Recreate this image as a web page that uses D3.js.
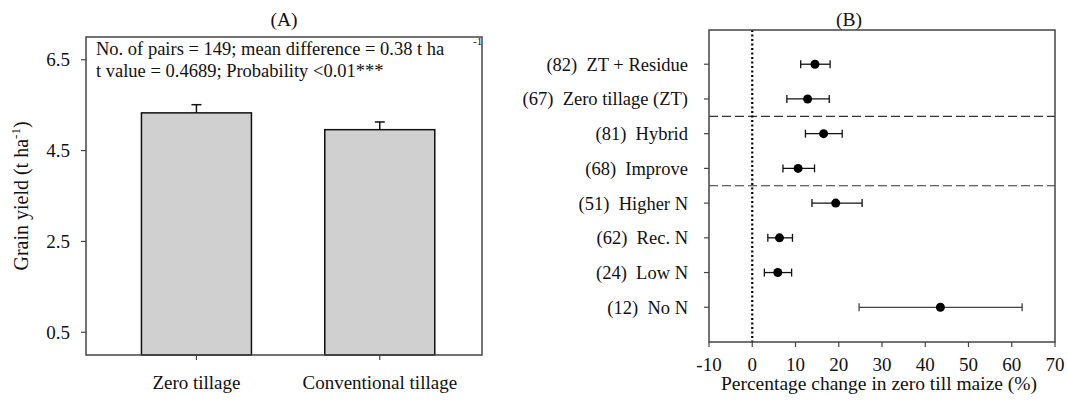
<!DOCTYPE html>
<html>
<head>
<meta charset="utf-8">
<script src="https://cdn.jsdelivr.net/npm/d3@7"></script>
<style>
  body { margin: 0; background: #fff; }
</style>
</head>
<body>
<svg id="chart" width="1068" height="404" font-family="Liberation Serif, Times New Roman, DejaVu Serif, serif"></svg>
<script>
// ── panel A data ──────────────────────────────────────────────────────────
const tillage = ['Zero tillage', 'Conventional tillage'];
const yieldMean = [5.33, 4.96];
const yieldErr = [0.18, 0.17];
const yieldTicks = [0.5, 2.5, 4.5, 6.5];

// ── panel B data ──────────────────────────────────────────────────────────
const practices = ['ZT + Residue', 'Zero tillage (ZT)', 'Hybrid', 'Improve', 'Higher N', 'Rec. N', 'Low N', 'No N'];
const pairs = [82, 67, 81, 68, 51, 62, 24, 12];
const change = [14.5, 12.8, 16.5, 10.6, 19.3, 6.3, 5.9, 43.5];
const changeLo = [11.2, 8.0, 12.3, 7.1, 13.8, 3.6, 2.8, 24.7];
const changeHi = [18.0, 17.8, 20.8, 14.4, 25.4, 9.3, 9.1, 62.4];
const changeTicks = [-10, 0, 10, 20, 30, 40, 50, 60, 70];
const groupBreaks = [2.5, 4.5];

const svg = d3.select('#chart');
const FONT = 'Liberation Serif, Times New Roman, DejaVu Serif, serif';
const FS = 18.5;
const AXIS = '#444';

const txt = (g, size = FS) => g.append('text').attr('font-family', FONT).attr('font-size', size).attr('fill', '#111');

// ═════ panel A ═════════════════════════════════════════════════════════════
const aL = 86, aR = 482, aT = 37, aB = 355;
const xA = d3.scaleBand().domain(tillage).range([aL, aR]).paddingInner(0.4).paddingOuter(0.28).align(0.54);
const yA = d3.scaleLinear().domain([0, 7]).range([aB, aT]);

const gA = svg.append('g');

// bars
tillage.forEach((c, i) => {
  const x0 = xA(c), bw = xA.bandwidth(), cx = x0 + bw / 2;
  gA.append('rect')
    .attr('x', x0).attr('y', yA(yieldMean[i]))
    .attr('width', bw).attr('height', yA(0) - yA(yieldMean[i]))
    .attr('fill', '#d0d0d0').attr('stroke', '#111').attr('stroke-width', 1.5);
  // error bar (upper only)
  gA.append('line')
    .attr('x1', cx).attr('x2', cx)
    .attr('y1', yA(yieldMean[i])).attr('y2', yA(yieldMean[i] + yieldErr[i]))
    .attr('stroke', '#111').attr('stroke-width', 1.5);
  gA.append('line')
    .attr('x1', cx - 5).attr('x2', cx + 5)
    .attr('y1', yA(yieldMean[i] + yieldErr[i])).attr('y2', yA(yieldMean[i] + yieldErr[i]))
    .attr('stroke', '#111').attr('stroke-width', 1.5);
});

// frame
gA.append('rect')
  .attr('x', aL).attr('y', aT).attr('width', aR - aL).attr('height', aB - aT)
  .attr('fill', 'none').attr('stroke', AXIS).attr('stroke-width', 1.5);

// y ticks
yieldTicks.forEach((t) => {
  gA.append('line').attr('x1', aL - 5).attr('x2', aL).attr('y1', yA(t)).attr('y2', yA(t))
    .attr('stroke', AXIS).attr('stroke-width', 1.2);
  txt(gA, 19).attr('x', aL - 16).attr('y', yA(t)).attr('dy', '0.35em')
    .attr('text-anchor', 'end').text(t.toFixed(1));
});

// x ticks
tillage.forEach((c) => {
  const cx = xA(c) + xA.bandwidth() / 2;
  gA.append('line').attr('x1', cx).attr('x2', cx).attr('y1', aB).attr('y2', aB + 5)
    .attr('stroke', AXIS).attr('stroke-width', 1.2);
  txt(gA, 19).attr('x', cx).attr('y', aB + 34).attr('text-anchor', 'middle').text(c);
});

// y axis title
const yTitle = txt(gA, 20)
  .attr('transform', `translate(28, ${(aT + aB) / 2}) rotate(-90)`)
  .attr('text-anchor', 'middle');
yTitle.append('tspan').text('Grain yield (t ha');
yTitle.append('tspan').attr('font-size', 13).attr('dy', -8).text('-1');
yTitle.append('tspan').attr('dy', 8).text(')');

// annotation
txt(gA).attr('x', 96).attr('y', 55).text('No. of pairs = 149; mean difference = 0.38 t ha');
txt(gA, 11).attr('x', 473).attr('y', 45).text('-1');
txt(gA).attr('x', 96).attr('y', 77).text('t value = 0.4689; Probability <0.01***');

// title
txt(gA, 19.5).attr('x', (aL + aR) / 2).attr('y', 26).attr('text-anchor', 'middle').text('(A)');

// ═════ panel B ═════════════════════════════════════════════════════════════
const bL = 709, bR = 1055, bT = 30, bB = 342;
const xB = d3.scaleLinear().domain([-10, 70]).range([bL, bR]);
const yB = d3.scaleLinear().domain([0, 9]).range([29.5, bB]);

const gB = svg.append('g');

// group separators
groupBreaks.forEach((b) => {
  gB.append('line').attr('x1', bL).attr('x2', bR).attr('y1', yB(b)).attr('y2', yB(b))
    .attr('stroke', '#333').attr('stroke-width', 1.2).attr('stroke-dasharray', '9,4');
});

// zero line
gB.append('line').attr('x1', xB(0)).attr('x2', xB(0)).attr('y1', bT).attr('y2', bB)
  .attr('stroke', '#000').attr('stroke-width', 2.2).attr('stroke-dasharray', '2,2.5');

// rows
practices.forEach((p, i) => {
  const cy = yB(i + 1);
  const col = i === practices.length - 1 ? '#444' : '#111';
  gB.append('line').attr('x1', xB(changeLo[i])).attr('x2', xB(changeHi[i])).attr('y1', cy).attr('y2', cy)
    .attr('stroke', col).attr('stroke-width', 1.3);
  [changeLo[i], changeHi[i]].forEach((v) => {
    gB.append('line').attr('x1', xB(v)).attr('x2', xB(v)).attr('y1', cy - 4).attr('y2', cy + 4)
      .attr('stroke', col).attr('stroke-width', 1.3);
  });
  gB.append('circle').attr('cx', xB(change[i])).attr('cy', cy).attr('r', 4.5).attr('fill', '#000');

  // y tick + label
  gB.append('line').attr('x1', bL - 5).attr('x2', bL).attr('y1', cy).attr('y2', cy)
    .attr('stroke', AXIS).attr('stroke-width', 1.2);
  txt(gB).attr('x', bL - 21).attr('y', cy).attr('dy', '0.35em')
    .attr('text-anchor', 'end').attr('xml:space', 'preserve').style('white-space', 'pre')
    .text(`(${pairs[i]})  ${p}`);
});

// frame
gB.append('rect')
  .attr('x', bL).attr('y', bT).attr('width', bR - bL).attr('height', bB - bT)
  .attr('fill', 'none').attr('stroke', AXIS).attr('stroke-width', 1.5);

// x ticks
changeTicks.forEach((t) => {
  gB.append('line').attr('x1', xB(t)).attr('x2', xB(t)).attr('y1', bB).attr('y2', bB + 5)
    .attr('stroke', AXIS).attr('stroke-width', 1.2);
  txt(gB, 19).attr('x', xB(t)).attr('y', bB + 29).attr('text-anchor', 'middle').text(t);
});

txt(gB, 19.5).attr('x', (bL + bR) / 2 - 3).attr('y', 390)
  .attr('text-anchor', 'middle').text('Percentage change in zero till maize (%)');

txt(gB, 19.5).attr('x', 849).attr('y', 26).attr('text-anchor', 'middle').text('(B)');
</script>
</body>
</html>
